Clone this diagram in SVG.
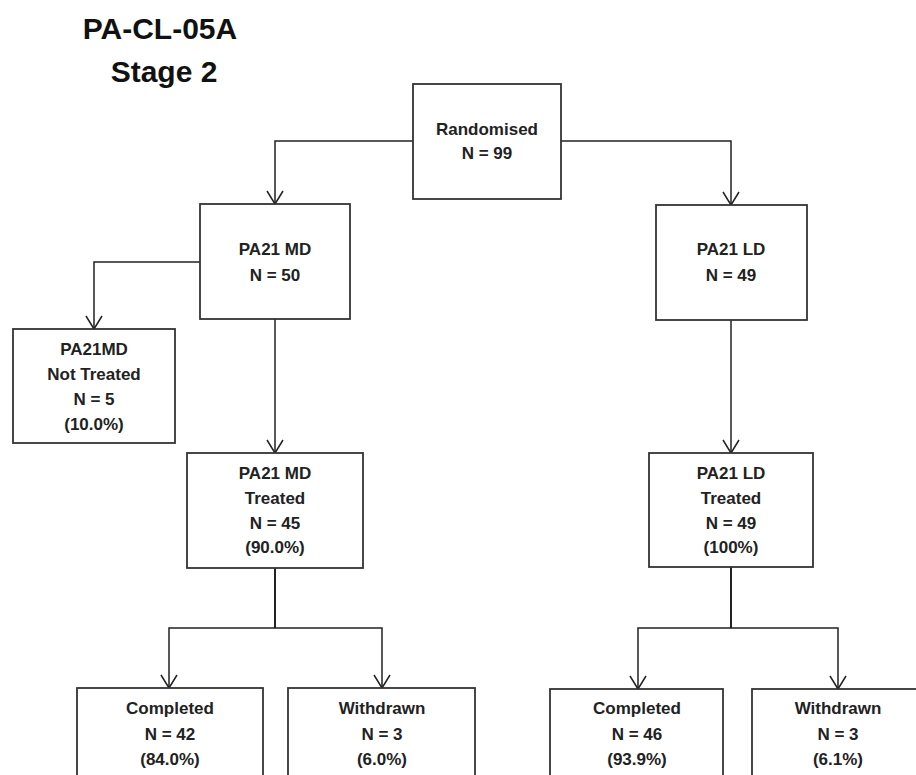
<svg xmlns="http://www.w3.org/2000/svg" width="916" height="775" viewBox="0 0 916 775">
<defs>
<marker id="arr" markerUnits="userSpaceOnUse" markerWidth="20" markerHeight="20" viewBox="-16 -10 20 20" refX="0" refY="0" orient="auto" overflow="visible">
<path d="M-13,-8 L0,0 L-13,8" fill="none" stroke="#222" stroke-width="1.5"/>
</marker>
<style>
.box{fill:#fff;stroke:#333;stroke-width:1.8}
.t{font-family:"Liberation Sans",Arial,sans-serif;font-weight:bold;font-size:17px;fill:#222;text-anchor:middle}
.title{font-family:"Liberation Sans",Arial,sans-serif;font-weight:bold;font-size:30px;fill:#111;text-anchor:middle}
.c{fill:none;stroke:#222;stroke-width:1.5}
.ca{fill:none;stroke:#222;stroke-width:1.5;marker-end:url(#arr)}
</style>
</defs>
<rect width="916" height="775" fill="#fff"/>
<g id="title">
<text class="title" x="160" y="39">PA-CL-05A</text>
<text class="title" x="164" y="82">Stage 2</text>
</g>
<g id="connectors">
<path class="ca" d="M413,141 H275 V204"/>
<path class="ca" d="M561,141 H731 V205"/>
<path class="ca" d="M200,262 H94 V329"/>
<path class="ca" d="M275,319 V453"/>
<path class="ca" d="M731,320 V453"/>
<path class="c" d="M275,568 V628" style="stroke-width:2"/>
<path class="ca" d="M275,628 H169 V688"/>
<path class="ca" d="M275,628 H382 V688"/>
<path class="c" d="M731,567 V628" style="stroke-width:2"/>
<path class="ca" d="M731,628 H638 V689"/>
<path class="ca" d="M731,628 H838 V689"/>
</g>
<g id="randomised">
<rect class="box" x="413" y="84" width="148" height="115"/>
<text class="t" x="487" y="135">Randomised</text>
<text class="t" x="487" y="159">N = 99</text>
</g>
<g id="md">
<rect class="box" x="200" y="204" width="150" height="115"/>
<text class="t" x="275" y="255">PA21 MD</text>
<text class="t" x="275" y="281">N = 50</text>
</g>
<g id="ld">
<rect class="box" x="656" y="205" width="151" height="115"/>
<text class="t" x="731" y="255">PA21 LD</text>
<text class="t" x="731" y="281">N = 49</text>
</g>
<g id="md-not-treated">
<rect class="box" x="13" y="329" width="162" height="114"/>
<text class="t" x="94" y="355">PA21MD</text>
<text class="t" x="94" y="380">Not Treated</text>
<text class="t" x="94" y="405">N = 5</text>
<text class="t" x="94" y="430">(10.0%)</text>
</g>
<g id="md-treated">
<rect class="box" x="187" y="453" width="176" height="115"/>
<text class="t" x="275" y="479">PA21 MD</text>
<text class="t" x="275" y="504">Treated</text>
<text class="t" x="275" y="529">N = 45</text>
<text class="t" x="275" y="553">(90.0%)</text>
</g>
<g id="ld-treated">
<rect class="box" x="649" y="453" width="164" height="114"/>
<text class="t" x="731" y="479">PA21 LD</text>
<text class="t" x="731" y="504">Treated</text>
<text class="t" x="731" y="529">N = 49</text>
<text class="t" x="731" y="553">(100%)</text>
</g>
<g id="md-completed">
<rect class="box" x="77" y="688" width="186" height="110"/>
<text class="t" x="170" y="714">Completed</text>
<text class="t" x="170" y="740">N = 42</text>
<text class="t" x="170" y="765">(84.0%)</text>
</g>
<g id="md-withdrawn">
<rect class="box" x="288" y="688" width="187" height="110"/>
<text class="t" x="382" y="714">Withdrawn</text>
<text class="t" x="382" y="740">N = 3</text>
<text class="t" x="382" y="765">(6.0%)</text>
</g>
<g id="ld-completed">
<rect class="box" x="550" y="689" width="173" height="110"/>
<text class="t" x="637" y="714">Completed</text>
<text class="t" x="637" y="740">N = 46</text>
<text class="t" x="637" y="765">(93.9%)</text>
</g>
<g id="ld-withdrawn">
<rect class="box" x="752" y="689" width="175" height="110"/>
<text class="t" x="838" y="714">Withdrawn</text>
<text class="t" x="838" y="740">N = 3</text>
<text class="t" x="838" y="765">(6.1%)</text>
</g>
</svg>
